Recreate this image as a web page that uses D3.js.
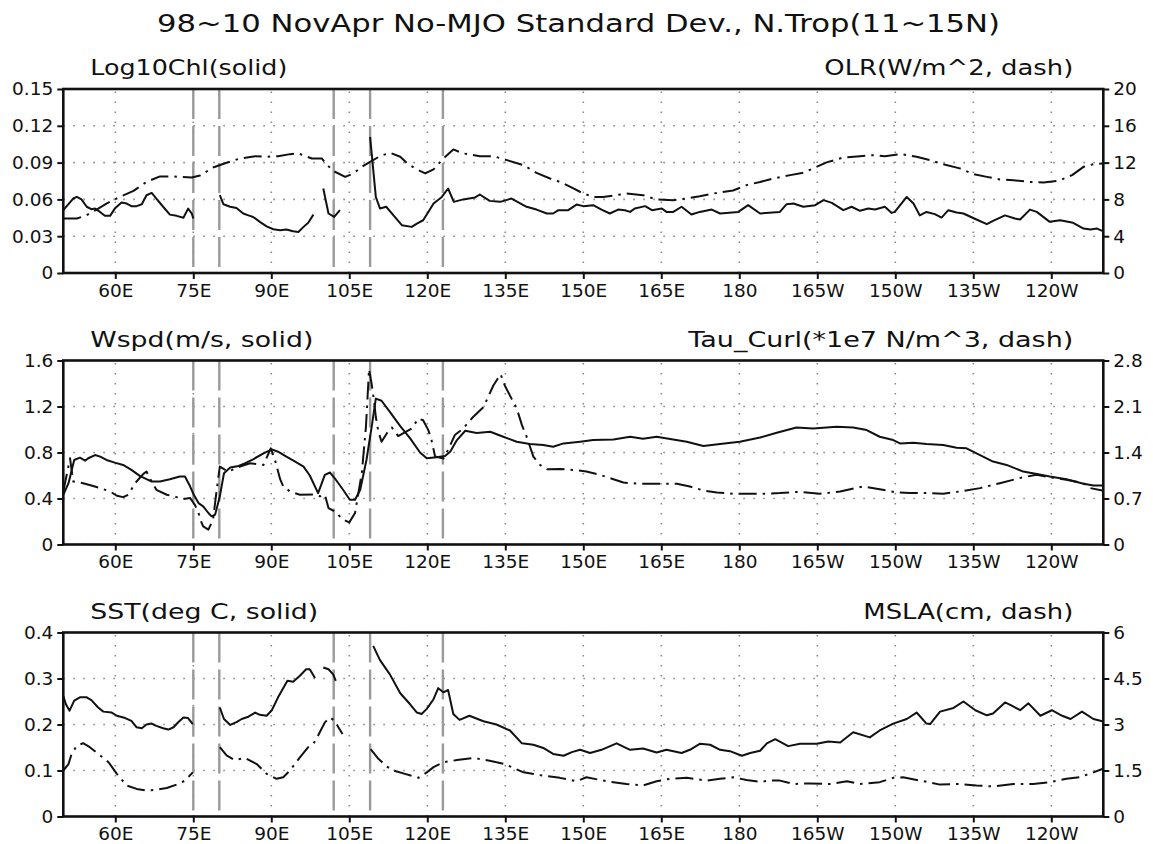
<!DOCTYPE html>
<html>
<head>
<meta charset="utf-8">
<script src="https://cdn.jsdelivr.net/npm/d3@7"></script>
<style>
  html, body { margin: 0; padding: 0; background: #fff; }
  svg { display: block; font-family: "DejaVu Sans", sans-serif; }
</style>
</head>
<body>
<svg id="chart" width="1153" height="844"></svg>
<script>
// Longitude / value pairs; a null value breaks the line (land or missing data).
const chlData = [
  [50,0.0512],[51.9,0.0607],[52.6,0.062],[53.5,0.060],[54.5,0.054],[55.4,0.052],[56.1,0.0525],[57,0.050],
  [58,0.0466],[59,0.0466],[59.9,0.0525],[61.2,0.0574],[62.2,0.0566],[63.1,0.0545],[64.1,0.0545],[65.1,0.056],
  [66,0.0634],[67,0.0653],[67.9,0.0607],[69.2,0.054],[70.5,0.0476],[71.8,0.0466],[73.1,0.045],[74,0.0525],
  [74.7,0.0485],[75,0.0444],[77,null],
  [80.1,0.0634],[80.8,0.056],[82.1,0.054],[83.3,0.053],[84.6,0.0485],[85.6,0.047],[86.5,0.0457],[87.8,0.0417],
  [89.1,0.038],[90.4,0.0357],[91.7,0.0349],[92.9,0.0354],[94.2,0.034],[95.2,0.0335],[96.2,0.0376],[97.1,0.041],
  [98.1,0.0476],[99,null],
  [100,0.0689],[101,0.0485],[102.1,0.0457],[103.2,0.0512],[105,null],
  [109,0.111],[110.1,0.062],[110.9,0.0526],[112.1,0.054],[113.5,0.047],[115.1,0.039],[117,0.0376],[118,0.0403],
  [119.2,0.043],[120.2,0.0498],[121.2,0.0567],[122.8,0.062],[124,0.0689],[125.1,0.058],[126.9,0.060],[129.2,0.0616],
  [130.1,0.064],[132,0.0588],[134,0.058],[136.2,0.0607],[139.1,0.054],[141,0.0517],[143,0.0485],[144.2,0.0485],
  [145.2,0.0512],[147.1,0.0512],[148.7,0.0558],[150,0.0545],[151.9,0.0553],[153.5,0.0517],[155.1,0.0485],[156.7,0.0517],
  [158,0.0512],[159,0.0498],[159.9,0.0526],[161.9,0.0545],[163.2,0.0512],[165.1,0.0526],[166,0.0498],[167.3,0.0498],
  [168.9,0.054],[170.8,0.0477],[172.4,0.0498],[174.7,0.0517],[176.3,0.0485],[179.8,0.0498],[181.7,0.0553],[184,0.0485],
  [187.8,0.0498],[189.1,0.0561],[190.4,0.0566],[192.3,0.054],[194.6,0.0553],[196.2,0.0594],[197.8,0.0572],[200,0.0512],
  [201.6,0.054],[203.2,0.0507],[204.8,0.0526],[206.1,0.0517],[208,0.054],[209.3,0.049],[209.9,0.0498],[212.2,0.062],
  [213.5,0.0566],[214.7,0.047],[216,0.0498],[217.6,0.048],[218.9,0.0452],[220.2,0.0512],[221.8,0.0493],[223.1,0.0485],
  [225.6,0.0436],[227.6,0.0398],[228.8,0.0425],[231.1,0.047],[233,0.0444],[234,0.0436],[235.9,0.0517],[237.2,0.0498],
  [239.7,0.0417],[241.7,0.043],[244.2,0.0409],[246.2,0.0362],[247.5,0.0354],[248.8,0.0362],[249.8,0.0344]
];
const olrData = [
  [50,5.92],[52.6,5.92],[54.5,6.28],[56.4,6.9],[58.3,7.55],[60.9,8.27],[63.5,8.93],[66,9.9],[68.6,10.5],[70.8,10.5],
  [72.8,10.45],[74.7,10.38],[76.3,10.6],[78.8,11.47],[81.4,11.98],[84,12.45],[86.9,12.7],[89.1,12.63],[91.3,12.7],
  [93.6,12.92],[95.2,13.0],[97.8,12.45],[99.7,12.45],[100.5,11.9],[101.9,11.1],[104.2,10.45],[105.8,10.82],[107.4,11.54],
  [109,12.08],[110.9,12.7],[112.8,13.07],[114.8,12.63],[116.3,11.83],[118,11.26],[119.6,10.82],[121.2,11.26],[123.1,12.45],
  [125,13.43],[126.9,13.0],[130.1,12.7],[132.7,12.7],[135.3,12.27],[138.5,11.72],[141,10.89],[143.6,10.27],[145.8,9.84],
  [148.1,9.19],[150,8.64],[151.9,8.27],[153.8,8.27],[155.8,8.42],[158.3,8.64],[161.5,8.46],[164.1,7.99],[167.3,7.91],
  [169.9,8.1],[172.4,8.34],[175.7,8.71],[178.8,8.97],[181.4,9.55],[184,9.9],[186.5,10.27],[189.8,10.64],[192.3,10.89],
  [194.6,11.47],[196.8,12.02],[200,12.56],[203.2,12.7],[205.8,12.81],[208,12.7],[211.2,12.92],[214.1,12.63],[216.7,12.27],
  [219.2,11.83],[222.4,11.37],[225,10.75],[227.6,10.45],[230.1,10.17],[232.7,10.09],[235.9,9.9],[238.5,9.84],[241.4,10.02],
  [244,10.64],[246.2,11.54],[248.1,11.83],[249.8,11.9]
];
const wspdData = [
  [50,0.432],[51,0.533],[52.1,0.735],[53.2,0.755],[54.2,0.729],[54.8,0.75],[56.1,0.778],[57.1,0.764],[58.3,0.735],
  [59.9,0.712],[61.5,0.692],[63.1,0.649],[64.7,0.597],[66,0.568],[67,0.548],[68.6,0.548],[70.5,0.568],[72.4,0.591],
  [73.4,0.591],[74.4,0.504],[75.1,0.432],[76,0.36],[76.9,0.332],[77.9,0.274],[78.5,0.245],[79.2,0.26],[80.1,0.418],
  [80.9,0.62],[82.1,0.669],[83.7,0.683],[84.9,0.706],[86.5,0.741],[88.5,0.793],[90.1,0.827],[91.3,0.807],[92.9,0.764],
  [94.6,0.721],[96.2,0.677],[97.4,0.6],[99,0.447],[100.3,0.605],[101.3,0.626],[102.2,0.576],[103.8,0.476],[105.1,0.389],
  [106.1,0.389],[107.1,0.476],[108.3,0.735],[109.3,1.023],[110.1,1.269],[111.2,1.25],[112.8,1.153],[114.8,1.03],
  [116.7,0.923],[118.6,0.8],[119.9,0.75],[121.8,0.758],[123.4,0.77],[124.4,0.807],[125.7,0.908],[127.3,0.989],[129.5,0.97],
  [132.1,0.98],[134.6,0.937],[137.2,0.894],[139.7,0.874],[142.3,0.865],[144.2,0.85],[146.2,0.879],[149.4,0.894],
  [151.9,0.908],[155.8,0.914],[159,0.937],[161.5,0.92],[164.1,0.937],[166.7,0.917],[169.9,0.894],[173.1,0.856],
  [176.3,0.874],[180.1,0.894],[184,0.93],[187.2,0.972],[191,1.018],[194.2,1.009],[198.7,1.023],[201.9,1.018],
  [204.5,0.995],[207,0.937],[209.6,0.908],[210.9,0.879],[213.5,0.885],[216,0.874],[219.2,0.865],[221.8,0.842],
  [223.7,0.836],[226.3,0.778],[228.8,0.721],[231.4,0.692],[234.6,0.634],[237.2,0.614],[239.7,0.591],[242.9,0.568],
  [246.2,0.528],[248.1,0.513],[249.8,0.513]
];
const curlData = [
  [50,0.807],[51.3,1.312],[51.9,0.959],[53.8,0.933],[55.4,0.898],[57.1,0.858],[59,0.807],[60.3,0.742],[61.5,0.721],
  [62.5,0.757],[63.8,0.933],[65.4,1.075],[66,1.11],[66.8,0.984],[67.9,0.832],[69.9,0.757],[71.8,0.721],[73.1,0.691],
  [74.4,0.706],[75.3,0.605],[76,0.479],[76.6,0.328],[76.9,0.277],[77.9,0.227],[78.8,0.378],[79.5,0.832],[80.1,1.186],
  [81.7,1.11],[84,1.186],[85.9,1.236],[88.5,1.211],[89.9,1.463],[90.7,1.287],[91.7,0.994],[92.3,0.883],[93.6,0.807],
  [95.5,0.757],[98.1,0.76],[99.4,0.733],[100.3,0.757],[101,0.555],[102.2,0.504],[103.8,0.378],[105,0.337],[106.1,0.479],
  [107.4,1.085],[108.2,1.79],[108.8,2.67],[109.3,2.44],[109.8,2.16],[110.1,1.94],[110.6,1.715],[111.2,1.564],[112.2,1.69],
  [113.2,1.78],[114.4,1.65],[117,1.766],[118.3,1.917],[119.2,1.89],[120.2,1.74],[120.8,1.59],[121.5,1.34],[123.1,1.31],
  [124,1.44],[125.3,1.665],[126.9,1.766],[128.8,1.94],[130.8,2.09],[132.7,2.42],[134.1,2.59],[134.9,2.42],[136.2,2.22],
  [137.2,2.07],[138.2,1.816],[139.1,1.64],[140.4,1.337],[141.7,1.21],[143,1.145],[145.5,1.15],[148.1,1.135],[150.6,1.11],
  [153.2,1.06],[155.8,0.994],[157.7,0.943],[160.9,0.923],[164.8,0.923],[168,0.923],[170.5,0.883],[173.1,0.822],
  [175.7,0.792],[178.8,0.772],[182,0.772],[184.6,0.772],[187.8,0.782],[191.7,0.802],[195.5,0.772],[199.4,0.807],
  [203.8,0.883],[207,0.842],[210.2,0.792],[212.8,0.782],[216,0.782],[219.2,0.772],[222.4,0.807],[226.3,0.858],
  [230.1,0.933],[234.6,1.024],[237.2,1.06],[239.7,1.024],[242.9,0.984],[246.2,0.933],[247.5,0.858],[249.8,0.822]
];
const sstData = [
  [50,0.262],[50.5,0.244],[51.2,0.23],[52.1,0.252],[53.2,0.259],[54.5,0.259],[55.4,0.253],[56.7,0.237],[57.7,0.228],
  [59.3,0.226],[60.3,0.219],[61.9,0.214],[63.1,0.208],[64.1,0.194],[65.1,0.192],[66,0.2],[67,0.202],[67.9,0.197],
  [69.2,0.192],[70.2,0.189],[71.2,0.194],[72.1,0.205],[73.1,0.215],[74,0.214],[74.9,0.201],[77,null],
  [80.1,0.237],[80.9,0.212],[82.1,0.199],[83.3,0.205],[84.3,0.212],[85.6,0.217],[86.9,0.226],[87.8,0.221],[89.1,0.219],
  [90.1,0.231],[91.3,0.259],[93.1,0.295],[94.2,0.293],[95.5,0.306],[96.7,0.32],[97.4,0.32],[98.4,0.301],[99,null],
  [100,0.324],[101,0.32],[101.9,0.309],[102.4,0.295],[105,null],
  [109.6,0.371],[110.9,0.34],[112.8,0.309],[114.8,0.268],[116.7,0.244],[118,0.226],[118.9,0.223],[119.9,0.234],
  [121.2,0.255],[122.1,0.279],[123.1,0.27],[124,0.275],[125,0.223],[126.2,0.21],[128.1,0.219],[130.8,0.207],
  [133.3,0.2],[135.9,0.187],[138.2,0.159],[140.4,0.156],[142.3,0.149],[144.2,0.136],[146.2,0.132],[147.8,0.14],
  [149.4,0.145],[151.3,0.138],[153.5,0.145],[156.4,0.159],[159,0.145],[161.5,0.148],[164.1,0.139],[166,0.145],
  [168.9,0.138],[170.5,0.145],[172.4,0.158],[174.4,0.156],[176.3,0.145],[178.2,0.142],[180.5,0.132],[182.1,0.138],
  [184,0.143],[185.3,0.159],[186.9,0.168],[189.4,0.153],[191.7,0.158],[194.9,0.158],[197.1,0.163],[199.4,0.161],
  [201.9,0.183],[205.1,0.172],[207,0.187],[209.6,0.202],[212.2,0.212],[214.1,0.226],[216,0.202],[216.7,0.201],
  [218.6,0.228],[221.2,0.236],[223.1,0.25],[225.4,0.231],[227.6,0.22],[228.8,0.224],[231.1,0.248],[232.4,0.241],
  [234,0.231],[235.6,0.246],[237.9,0.219],[240.1,0.231],[242.1,0.219],[243.7,0.212],[245.9,0.228],[248.1,0.212],
  [249.8,0.207]
];
const mslaData = [
  [50,1.5],[51,1.71],[51.6,2.04],[52.6,2.31],[53.8,2.39],[55.1,2.26],[57.1,1.99],[58.7,1.77],[60.3,1.39],[62.2,1.01],
  [64.1,0.9],[66,0.85],[67.9,0.87],[69.9,0.93],[71.8,1.04],[73.4,1.17],[74.9,1.44],[77,null],
  [80.1,2.26],[81.4,1.99],[83,1.84],[84.9,1.91],[87.2,1.71],[89.1,1.39],[91,1.23],[92.3,1.28],[93.6,1.5],[95.5,1.93],
  [97.1,2.26],[98.1,2.37],[99,2.64],[100.3,3.07],[101.3,3.23],[102.2,3.12],[102.9,2.91],[103.7,2.69],[106,null],
  [109.1,2.2],[110.6,1.88],[112.2,1.63],[113.5,1.5],[115.7,1.39],[118.3,1.26],[119.9,1.44],[121.2,1.61],[123.1,1.77],
  [125.7,1.84],[128.8,1.91],[132,1.82],[134.9,1.71],[138.5,1.44],[142.3,1.33],[145.5,1.26],[148.7,1.15],[150.6,1.28],
  [154.5,1.15],[158.3,1.06],[161.5,1.01],[164.1,1.15],[166.7,1.23],[169.9,1.26],[173.7,1.17],[176.3,1.23],[178.8,1.28],
  [181.4,1.19],[184,1.13],[185.9,1.17],[187.8,1.17],[190.4,1.06],[193.6,1.08],[197.4,1.06],[200.7,1.15],[203.2,1.06],
  [207,1.12],[209.6,1.26],[211.5,1.28],[215.4,1.15],[218.6,1.04],[222.4,1.06],[225.6,1.01],[228.8,0.98],[232.7,1.06],
  [236.5,1.06],[239.7,1.12],[242.9,1.23],[245.5,1.28],[248.1,1.44],[249.8,1.55]
];

// Axis definitions
const lonTicks = [60, 75, 90, 105, 120, 135, 150, 165, 180, 195, 210, 225, 240];
const markerLons = [75, 80, 102, 109, 123];
const chlTicks = [0, 0.03, 0.06, 0.09, 0.12, 0.15];
const olrTicks = [0, 4, 8, 12, 16, 20];
const wspdTicks = [0, 0.4, 0.8, 1.2, 1.6];
const curlTicks = [0, 0.7, 1.4, 2.1, 2.8];
const sstTicks = [0, 0.1, 0.2, 0.3, 0.4];
const mslaTicks = [0, 1.5, 3, 4.5, 6];

const titleText = "98~10 NovApr No-MJO Standard Dev., N.Trop(11~15N)";

const panels = [
  { top: 89, left: { title: "Log10Chl(solid)", data: chlData, ticks: chlTicks, fmt: d3.format(".2f"), tw: 197 },
              right: { title: "OLR(W/m^2, dash)", data: olrData, ticks: olrTicks, fmt: d3.format("d"), tw: 249 } },
  { top: 360.5, left: { title: "Wspd(m/s, solid)", data: wspdData, ticks: wspdTicks, fmt: d3.format(".1f"), tw: 223 },
              right: { title: "Tau_Curl(*1e7 N/m^3, dash)", data: curlData, ticks: curlTicks, fmt: d3.format(".1f"), tw: 385 } },
  { top: 632.5, left: { title: "SST(deg C, solid)", data: sstData, ticks: sstTicks, fmt: d3.format(".1f"), tw: 228 },
              right: { title: "MSLA(cm, dash)", data: mslaData, ticks: mslaTicks, fmt: d => String(d), tw: 210 } }
];

const plotLeft = 63.3, plotRight = 1103.3, plotH = 184;

const svg = d3.select("#chart");

const x = d3.scaleLinear().domain([50, 250]).range([plotLeft, plotRight]);
const lonLabel = d => d < 180 ? d + "E" : (d === 180 ? "180" : (360 - d) + "W");

svg.append("text")
  .attr("x", 157).attr("y", 32)
  .attr("font-size", 25)
  .attr("textLength", 843).attr("lengthAdjust", "spacingAndGlyphs")
  .attr("fill", "#111")
  .text(titleText);

panels.forEach(p => {
  const top = p.top, bottom = p.top + plotH;
  const g = svg.append("g");
  const yL = d3.scaleLinear().domain([0, d3.max(p.left.ticks)]).range([bottom, top]);
  const yR = d3.scaleLinear().domain([0, d3.max(p.right.ticks)]).range([bottom, top]);

  // dotted grid
  const grid = g.append("g").attr("stroke", "#8a8a8a").attr("stroke-width", 1.6)
    .attr("stroke-dasharray", "1.6,8.4").attr("fill", "none");
  lonTicks.forEach(t => grid.append("line")
    .attr("x1", x(t)).attr("x2", x(t)).attr("y1", bottom).attr("y2", top));
  p.left.ticks.forEach(t => grid.append("line")
    .attr("x1", plotLeft).attr("x2", plotRight).attr("y1", yL(t)).attr("y2", yL(t)));

  // grey marker longitudes
  markerLons.forEach(m => g.append("line")
    .attr("x1", x(m)).attr("x2", x(m)).attr("y1", top).attr("y2", bottom)
    .attr("stroke", "#9a9a9a").attr("stroke-width", 2.4).attr("stroke-dasharray", "30,7"));

  // series: right-axis variable dash-dot, left-axis variable solid
  const lineL = d3.line().defined(d => d[1] !== null).x(d => x(d[0])).y(d => yL(d[1]));
  const lineR = d3.line().defined(d => d[1] !== null).x(d => x(d[0])).y(d => yR(d[1]));
  g.append("path").attr("d", lineR(p.right.data))
    .attr("fill", "none").attr("stroke", "#111").attr("stroke-width", 2)
    .attr("stroke-dasharray", "18,6,2.5,6").attr("stroke-linejoin", "round");
  g.append("path").attr("d", lineL(p.left.data))
    .attr("fill", "none").attr("stroke", "#111").attr("stroke-width", 2)
    .attr("stroke-linejoin", "round");

  // axes
  const fmtL = d => d === 0 ? "0" : p.left.fmt(d);
  const fmtR = d => d === 0 ? "0" : p.right.fmt(d);
  const axB = g.append("g").attr("transform", `translate(0,${bottom})`)
    .call(d3.axisBottom(x).tickValues(lonTicks).tickFormat(lonLabel).tickSize(6).tickPadding(4));
  const axL = g.append("g").attr("transform", `translate(${plotLeft},0)`)
    .call(d3.axisLeft(yL).tickValues(p.left.ticks).tickFormat(fmtL).tickSize(6).tickPadding(4));
  const axR = g.append("g").attr("transform", `translate(${plotRight},0)`)
    .call(d3.axisRight(yR).tickValues(p.right.ticks).tickFormat(fmtR).tickSize(6).tickPadding(4));
  [axB, axL, axR].forEach(a => {
    a.select(".domain").remove();
    a.selectAll("line").attr("stroke", "#111").attr("stroke-width", 2);
    a.selectAll("text").attr("font-size", 18.5).attr("fill", "#111")
      .attr("font-family", "DejaVu Sans, sans-serif");
  });
  axB.selectAll("text").attr("dy", "0.75em");

  // frame
  g.append("rect").attr("x", plotLeft).attr("y", top)
    .attr("width", plotRight - plotLeft).attr("height", plotH)
    .attr("fill", "none").attr("stroke", "#111").attr("stroke-width", 2.6);

  // panel captions
  g.append("text").attr("x", plotLeft + 27).attr("y", top - 14)
    .attr("font-size", 20.5).attr("fill", "#111")
    .attr("textLength", p.left.tw).attr("lengthAdjust", "spacingAndGlyphs")
    .text(p.left.title);
  g.append("text").attr("x", plotRight - 30 - p.right.tw).attr("y", top - 14)
    .attr("font-size", 20.5).attr("fill", "#111")
    .attr("textLength", p.right.tw).attr("lengthAdjust", "spacingAndGlyphs")
    .text(p.right.title);
});
</script>
</body>
</html>
